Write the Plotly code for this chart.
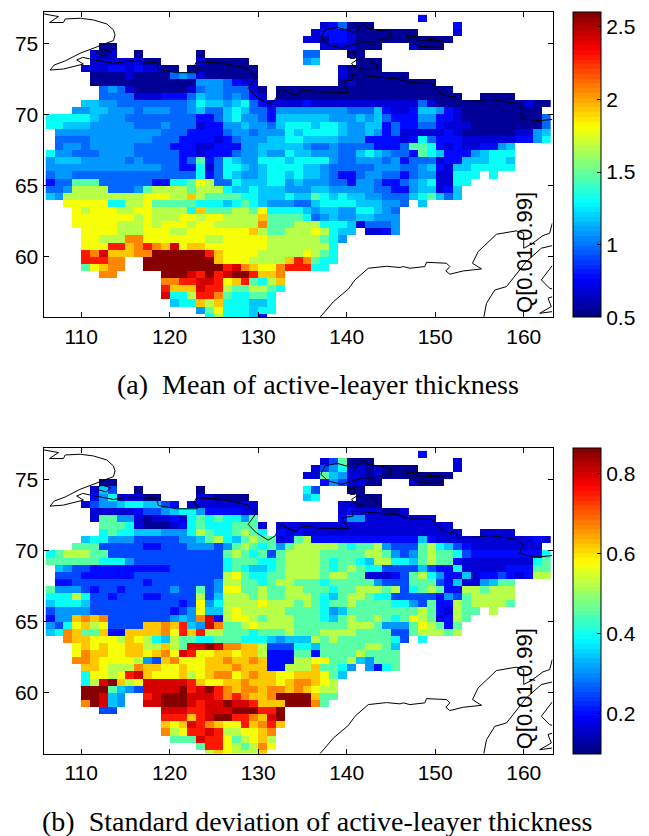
import plotly.graph_objects as go

PAGE = 8
W, H = 649 - PAGE, 836 - PAGE
LONS = [106 + i + 0.5 for i in range(57)]
LATS = [76.5 - i * 0.5 + 0.25 for i in range(43)]
CODES = "0123456789abcde"
MEAN_VALUES = [.56, .67, .77, .98, 1.09, 1.17, 1.30, 1.47, 1.68, 1.80, 1.93, 2.05, 2.29, 2.43, 2.6]
STD_VALUES = [.12, .16, .20, .25, .31, .34, .39, .45, .53, .57, .62, .67, .75, .80, .865]
XTICKS = [110, 120, 130, 140, 150, 160]
YTICKS = [60, 65, 70, 75]
MEAN_TICKS = [0.5, 1, 1.5, 2, 2.5]
MEAN_LABELS = ["0.5", "1", "1.5", "2", "2.5"]
STD_TICKS = [0.2, 0.4, 0.6, 0.8]
STD_LABELS = ["0.2", "0.4", "0.6", "0.8"]

MEAN_ROWS = [
".......... .......... .......... .......... ..2",
".......... .......... .......... .123000... ......2",
".......... .......... .......... 1222100000 00....1",
".......... .......... .........1 1022100000 000000",
"......00.. .......... .......... .1111000.. .1000",
".....101.. 0......0.. .........3 3...00....",
".....11111 100....100 000......4 5....000..",
"....111221 21100.0000 0000...... ...10000..",
".....00001 0000343100 0000...... ...1000000 0",
".....00000 0000000444 3211...... ...0100000 0000",
"......3431 0000001344 33310.0000 0000000000 000000",
"......3333 1112223544 34321.0000 0000000000 0000000..0 000",
"....554433 3333334655 4563211112 1111111111 1131000000 0000100",
"...4455444 3444334533 5653324444 4444333521 1255421000 000000",
"6666654443 3333333223 5644325555 5544454532 2244221000 0000003",
"6655544444 3334333122 4454435666 5665445523 2233211100 0000003",
".444444444 4443332222 3443444656 6665445423 1111121000 0001145",
".333344444 4433322221 2344455665 5554442222 1263222111 1112246",
".344344444 3333222112 2244555554 3343333222 3776212112 245",
"6443334444 3333322122 2344544655 4443356543 3276522245 666",
"4555444443 4333323723 6544666566 6643344434 2333122555 665",
"4444444444 4443322613 6654566665 5433333444 3345215566 666",
"3443333333 3333333623 6544566565 5432234433 234411666. 6",
"2337773333 3322667983 3655566454 4433244322 34561166",
"3348888333 4788887888 6556555444 5544444332 2455125",
"5488888888 899988a877 7766555655 7656554433 3567535",
"..99999668 8977777666 5676544433 5666655544 3.5",
"...9899988 9988886a77 7887966665 4554466543",
"...9999999 8988899899 8888a77776 3454455444",
"...9999988 8989998998 8888b77788 8666513334",
"....999988 8999889999 999a877888 98655.1124",
"....99888b b999999988 9999988888 8764",
"....999cca bcbad9aa99 9999988888 886",
"....cbdaaa bbeeeeeeca 9999888889 876",
"....cccbb. .eeeeeeeea 9998888acb 766",
"....79abb. .eeeeeeeee cdba99bccc 66",
"......bb.. ...eeedcec deecaab",
".......... ...bbccddc 9ac768a",
".......... ...caaadcc 8778876",
".......... ...d668ccb 766776",
".......... ....566a8a 666556",
".......... .......479 666566",
".......... ........68 66652",
]

STD_ROWS = [
".......... .......... .......... .......... ..2",
".......... .......... .......... .137000... ......1",
".......... .......... .......... 1346110100 00....1",
".......... .......... .........1 1754110100 000000",
"......00.. .......... .......... .2431100.. .1000",
".....153.. 0......0.. .........6 3...00....",
".....24611 100....110 000......5 6....000..",
"....134456 65532.1111 1111...... ...11000..",
".....11111 2334566422 2211...... ...1211100 1",
".....17744 1011216767 6647...... ...2441111 1111",
"......7776 1000126766 67771.1111 1111111111 111111",
"......6766 5554446876 67876.2121 1111111111 1111111..1 111",
"....566444 3333344578 6578771278 2222222222 2252111111 1111121",
"...7773333 3223334443 4787674788 8887677843 3378653211 111111",
"6788877333 3333333333 7876737888 8777778874 3478776322 2222226",
"7777776664 3333333333 6777667888 8767765886 6578772111 1111167",
".543322222 2222333333 6765567888 8767876633 3353226111 1122277",
".333222222 3333333333 8976677888 8788771112 3786422512 2321288",
".223333333 3233333334 8877678877 7677777433 3777325114 577",
"7444323323 3333433734 9977877887 7767788878 3678722887 888",
"6668633233 3223333835 8887877888 7657887663 3333243788 888",
"5666533333 3333323946 8888988878 7677877776 6437228788 887",
"3444433333 3333234955 8988888777 7645777777 778721877. 8",
"244abab333 3333454bd2 8998788877 7657877876 79871287",
"4369a89333 3aabac54db 7789888877 7777888744 4798727",
"56ba77a22a aaab9cac88 7776777877 7888877773 3788878",
"..baa9998a 9865877667 7766654555 8787777776 3.6",
"...9a9a99a a88a87dded bbaa833366 5777778875",
"...9baa99a a9ab9dc99a a9aa822277 2777787777",
"...bba9999 843ab999aa baaba22288 9977854777",
"....aa9888 baa99a99aa abaaa22888 a7764.4267",
"....69989c da999a89ab b9abaa99aa a975",
"....68dea8 9dddddca99 aabaaa9abb a98",
"....eee754 3ddddecdec babbabbaba 988",
"....eed54. .cdeeedddc bcbaabeeee a77",
"....bed54. .ddeeedcdd eddcaaaeee b7",
"......33.. ...dddccdd deeecce",
".......... ...cccacde eccbade",
".......... ...a9adcba 99cabca",
".......... ...b89ccdc 8899ab",
".......... ....777dcc 9789a8",
".......... .......7cc 9878b9",
".......... ........8a 9888a",
]

COAST_LON = [
[105.75,107.44,106.43,108.0,108.2,109.9,111.4,112.9,113.65,113.83,113.65,111.77,109.89,108.2,106.95,106.5,108.0,110.26,109.5,110.19,111.2,113.65,115.53,118.53,118.72,120.79,123.05,123.35,122.74,123.05,126.05,128.68,129.81,128.87,129.81,131.13,131.88,132.63,133.57,134.32,134.89,135.86,136.24,138.87,140.19,139.44,140.75,140.56,142.26,145.83,147.14,149.59,150.15,150.9,152.33,152.59,155.04,156.17,159.17,159.85,159.55,160.3,161.8,163.23],
[111.58,112.33,113.38,112.82,111.58],
[137.07,137.56,138.87,140.94,141.88,142.44,145.08,144.89,142.82,141.88,139.44,137.93,137.07],
[146.58,147.14,150.98,150.53,148.27,147.14,146.58],
[146.77,149.02,150.98],
[140.19,140.94,140.94,140.38,140.19],
[140.56,141.13,142.44,143.46,143.46,141.88,140.75,140.56],
[136.99,138.5,140.19,140.94,142.44,144.51,146.02,146.39,147.14,148.83,149.02,151.28,151.65,151.2,151.65,153.16,155.23,154.21,154.85,156.92,159.17,160.0,160.0,160.86,162.18,162.93,163.23],
[155.49,155.79,156.73,158.05,160.3,161.99,163.23],
[163.23,161.99,162.93,163.23],
[163.23,162.74,163.12,161.8,163.23],
]
COAST_LAT = [
[77.07,76.88,76.46,76.46,76.71,76.76,76.64,76.36,75.94,75.59,75.19,74.77,74.3,73.76,73.47,73.12,73.19,73.54,73.83,74.01,73.87,73.59,73.76,73.64,73.17,72.93,72.93,73.08,73.36,73.71,73.59,73.24,72.65,71.83,71.24,70.73,71.01,71.83,71.48,71.36,71.67,71.71,71.6,71.53,71.53,72.3,72.42,72.77,72.7,72.49,72.23,72.18,71.76,71.36,71.2,70.89,70.96,71.06,70.77,70.42,69.84,69.65,69.55,69.65],
[74.34,74.6,74.41,74.11,74.34],
[75.35,75.94,76.13,75.77,76.36,76.06,75.77,75.35,75.07,75.12,74.65,74.88,75.35],
[75.7,75.28,75.12,74.72,74.77,75.12,75.7],
[75.52,75.4,75.12],
[74.39,74.39,73.94,73.94,74.39],
[73.59,73.83,73.87,73.47,73.17,73.17,73.4,73.59],
[55.73,56.83,57.72,58.36,59.18,59.32,59.23,59.3,59.18,59.3,59.6,59.53,59.3,58.99,58.76,58.99,59.13,59.53,60.35,61.57,61.81,61.64,60.59,60.87,61.48,61.64,62.35],
[55.73,56.71,57.65,57.89,59.65,60.59,60.77],
[59.37,58.36,57.77,57.72],
[57.18,57.07,56.48,56.01,56.13],
]


def decode(rows, values):
    out = []
    for r in rows:
        s = r.replace(" ", "").ljust(len(LONS), ".")[:len(LONS)]
        out.append([values[CODES.index(c)] if c != "." else None for c in s])
    return out


def jet_scale(n=64):
    stops = [(0, (0, 0, 127)), (.125, (0, 0, 255)), (.375, (0, 255, 255)),
             (.625, (255, 255, 0)), (.875, (255, 0, 0)), (1, (127, 0, 0))]
    def col(f):
        for (a, ca), (b, cb) in zip(stops, stops[1:]):
            if f <= b:
                t = (f - a) / (b - a)
                return "rgb(%d,%d,%d)" % tuple(round(p + (q - p) * t) for p, q in zip(ca, cb))
        return "rgb(127,0,0)"
    scale = []
    for i in range(n):
        c = col((i + .5) / n)
        scale += [[i / n, c], [(i + 1) / n, c]]
    return scale


def px(x):
    return (x - PAGE) / W


def py(y):
    return 1 - (y - PAGE) / H


SANS = "Liberation Sans"
SERIF = "Liberation Serif"
FONT = dict(family=SANS, size=21, color="black")
PANELS = [
    dict(rows=MEAN_ROWS, values=MEAN_VALUES, zmin=.5, zmax=2.6, ticks=MEAN_TICKS, labels=MEAN_LABELS, top=12, bot=317.3),
    dict(rows=STD_ROWS, values=STD_VALUES, zmin=.1, zmax=.865, ticks=STD_TICKS, labels=STD_LABELS, top=448, bot=753.7),
]

fig = go.Figure()
layout = dict(width=W, height=H, margin=dict(l=0, r=0, t=0, b=0), paper_bgcolor="white",
              plot_bgcolor="white", showlegend=False, font=FONT, annotations=[])
scale = jet_scale()
for k, p in enumerate(PANELS):
    sfx = "" if k == 0 else "2"
    ydom = [py(p["bot"]), py(p["top"])]
    fig.add_trace(go.Heatmap(
        x=LONS, y=LATS, z=decode(p["rows"], p["values"]), zmin=p["zmin"], zmax=p["zmax"],
        colorscale=scale, xaxis="x" + sfx, yaxis="y" + sfx, hoverinfo="skip",
        colorbar=dict(x=px(573.3), xanchor="left", thickness=28.4, thicknessmode="pixels",
                      y=ydom[0], yanchor="bottom", len=ydom[1] - ydom[0], lenmode="fraction",
                      xpad=0, ypad=0, outlinecolor="black", outlinewidth=1,
                      tickvals=p["ticks"], ticktext=p["labels"], ticks="inside", ticklen=4,
                      tickcolor="black", tickfont=FONT)))
    for lon, lat in zip(COAST_LON, COAST_LAT):
        fig.add_trace(go.Scatter(x=lon, y=lat, mode="lines", xaxis="x" + sfx, yaxis="y" + sfx,
                                 line=dict(color="black", width=1), hoverinfo="skip"))
    axis = dict(showline=True, mirror="ticks", linecolor="black", linewidth=1, ticks="inside",
                ticklen=5, tickcolor="black", showgrid=False, zeroline=False, tickfont=FONT)
    layout["xaxis" + sfx] = dict(axis, domain=[px(43.5), px(552.5)], range=[105.75, 163.25],
                                 tickvals=XTICKS, anchor="y" + sfx)
    layout["yaxis" + sfx] = dict(axis, domain=ydom, range=[55.73, 77.2], tickvals=YTICKS,
                                 anchor="x" + sfx)
    layout["annotations"].append(dict(
        x=160.1, y=60.3, xref="x" + sfx, yref="y" + sfx, text="Q[0.01,0.99]", textangle=-90,
        showarrow=False, font=dict(family=SANS, size=22, color="black")))

CAPTIONS = [("(a)\u2002Mean of active-leayer thickness", 318, 384),
            ("(b)\u2002Standard deviation of active-leayer thickness", 317, 821)]
for text, cx, cy in CAPTIONS:
    layout["annotations"].append(dict(
        x=px(cx), y=py(cy), xref="paper", yref="paper", text=text, xanchor="center", yanchor="middle",
        showarrow=False, font=dict(family=SERIF, size=28, color="black")))

fig.update_layout(**layout)
fig.write_html("out.html")
